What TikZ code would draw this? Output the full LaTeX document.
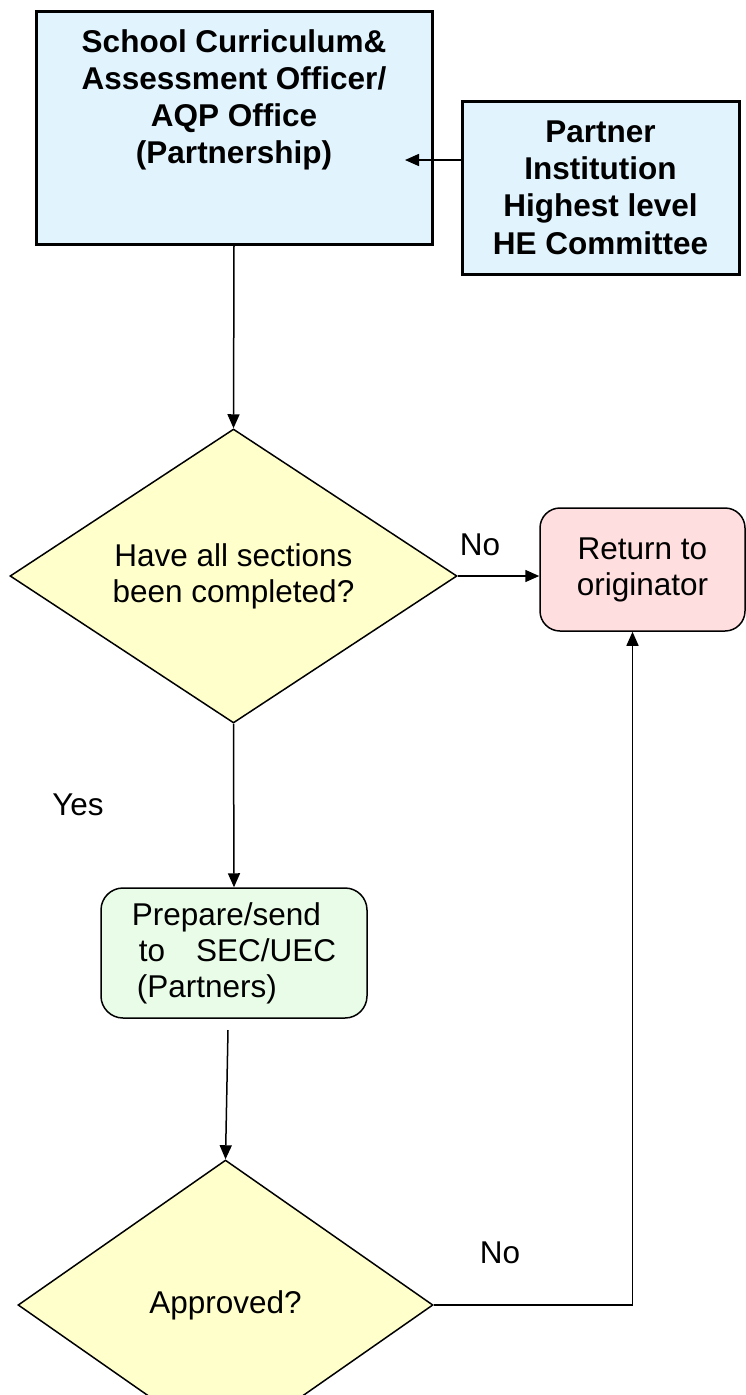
\documentclass[tikz,border=0pt]{standalone}
\usepackage{fontspec}
\setmainfont{Liberation Sans}
\usetikzlibrary{arrows.meta, positioning, shapes, calc}

\definecolor{boxblue}{RGB}{225,243,253}
\definecolor{decyellow}{RGB}{255,255,204}
\definecolor{retpink}{RGB}{255,222,224}
\definecolor{prepgreen}{RGB}{232,252,232}

\begin{document}
\begin{tikzpicture}[
    x=1pt, y=-1pt,
    font=\fontsize{31.5}{36}\selectfont,
    block/.style={rectangle, draw, line width=3pt, fill=boxblue, align=center, font=\fontsize{31.5}{37.3}\selectfont\bfseries},
    decision/.style={diamond, draw, line width=1.5pt, fill=decyellow, align=center, inner sep=2pt},
    roundbox/.style={rectangle, draw, line width=1.5pt, rounded corners=20pt, align=center},
    arrow/.style={line width=1.5pt,-{Triangle[length=14pt,width=12pt]}}
]
\useasboundingbox (0,0) rectangle (746,1395);

\node[block, inner sep=0pt] (office) at (234,127.5) {\parbox[c][233pt][t]{396pt}{\centering\rule{0pt}{41pt}School Curriculum\&\\Assessment Officer/\\AQP Office\\(Partnership)}};
\node[block, minimum width=277pt, minimum height=173pt] (partner) at (600.5,187.5) {Partner\\Institution\\Highest level\\HE Committee};

\node[decision, minimum width=447pt, minimum height=294pt, aspect=1.52] (check) at (233.5,576) {Have all sections\\been completed?};
\node[roundbox, fill=retpink, minimum width=205pt, minimum height=123pt] (ret) at (642.5,569.5) {Return to\\originator};
\node[roundbox, fill=prepgreen, rounded corners=22pt, minimum width=266pt, minimum height=130pt, align=left] (prep) at (234,953) {Prepare/send\\\hspace*{7pt}to\hspace{31pt}SEC/UEC\\\hspace*{5pt}(Partners)};
\node[decision, minimum width=415pt, minimum height=290pt, aspect=1.43] (approve) at (225.5,1305) {Approved?};

\node (no1) at (480,545) {No};
\node (yes) at (78,805) {Yes};
\node (no2) at (500,1253) {No};

\coordinate (officeIn) at (405,160);
\coordinate (prepOut) at (228,1030);

\draw[arrow] (partner.west |- officeIn) -- (officeIn);
\draw[arrow] (office.south) -- (check.north);
\draw[arrow] (check.east) -- (check.east -| ret.west);
\draw[arrow] (check.south) -- (prep.north);
\draw[arrow] (prepOut) -- (approve.north);
\draw[arrow] (approve.east) -| ($(ret.south)+(-10,0)$);
\end{tikzpicture}
\end{document}
